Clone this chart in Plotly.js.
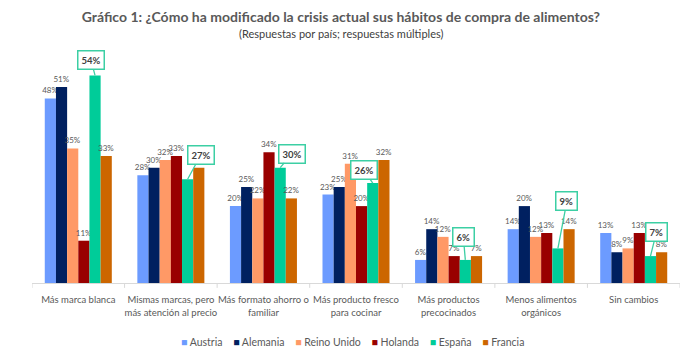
<!DOCTYPE html>
<html>
<head>
<meta charset="utf-8">
<script src="https://cdn.plot.ly/plotly-3.0.1.min.js"></script>
<style>html,body{margin:0;padding:0;background:#fff;}#chart{width:700px;height:354px;}</style>
</head>
<body>
<div id="chart"></div>
<script>
const categories = [
  "Más marca blanca",
  "Mismas marcas, pero<br>más atención al precio",
  "Más formato ahorro o<br>familiar",
  "Más producto fresco<br>para cocinar",
  "Más productos<br>precocinados",
  "Menos alimentos<br>orgánicos",
  "Sin cambios"
];
const austria    = [48, 28, 20, 23, 6, 14, 13];
const alemania   = [51, 30, 25, 25, 14, 20, 8];
const reinoUnido = [35, 32, 22, 31, 12, 12, 9];
const holanda    = [11, 33, 34, 20, 7, 13, 13];
const espana     = [54, 27, 30, 26, 6, 9, 7];
const francia    = [33, 30, 22, 32, 7, 14, 8];

const seriesNames = ["Austria", "Alemania", "Reino Unido", "Holanda", "España", "Francia"];
const seriesData = [austria, alemania, reinoUnido, holanda, espana, francia];
const colors = ["#6C9BFF", "#002060", "#FF9966", "#990000", "#00CC99", "#CC6600"];

const bargap = 0.276;
const nSeries = seriesNames.length;
const barW = (1 - bargap) / nSeries;
const espIdx = 4;
const espOffset = -(1 - bargap) / 2 + (espIdx + 0.5) * barW;

const traces = seriesData.map((vals, k) => ({
  type: "bar",
  name: seriesNames[k],
  x: categories.map((c, i) => i),
  y: vals,
  marker: {color: colors[k]},
  text: k === espIdx ? vals.map(() => "") : vals.map(v => v + "%"),
  textposition: "outside",
  constraintext: "none",
  cliponaxis: false,
  textfont: {family: "Lato, sans-serif", size: 8, color: "#595959"},
  hoverinfo: "skip",
  showlegend: false
}));

// callout offsets (px) from bar top to box center
const calloutAx = [-4, 13, 12, -9, -2, 9, 6];
const calloutAy = [-15, -24, -14, -13, -23, -47, -24];

const annotations = espana.map((v, i) => ({
  x: i + espOffset,
  y: v,
  xref: "x", yref: "y",
  text: "<b>" + v + "%</b>",
  showarrow: true,
  arrowhead: 0,
  arrowwidth: 1.3,
  arrowcolor: "#3CCFA4",
  ax: calloutAx[i],
  ay: calloutAy[i],
  bordercolor: "#3CCFA4",
  borderwidth: 1.5,
  borderpad: 3,
  bgcolor: "#ffffff",
  font: {family: "Lato, sans-serif", size: 9.5, color: "#404040"}
}));

annotations.push({
  xref: "paper", yref: "paper",
  x: 0.477, y: 1.117,
  xanchor: "center", yanchor: "middle",
  showarrow: false,
  text: "(Respuestas por país; respuestas múltiples)",
  font: {family: "Lato, sans-serif", size: 11, color: "#404040"}
});

// compact legend row
const legendText = seriesNames.map((n, k) =>
  '<span style="color:' + colors[k] + '">■</span> ' + n
).join("&nbsp;&nbsp;&nbsp;&nbsp;");
annotations.push({
  xref: "paper", yref: "paper",
  x: 0.495, y: -0.265,
  xanchor: "center", yanchor: "middle",
  showarrow: false,
  text: legendText,
  font: {family: "Lato, sans-serif", size: 10.5, color: "#595959"}
});

const layout = {
  width: 700, height: 354,
  margin: {l: 32, r: 20, t: 60, b: 71, autoexpand: false},
  paper_bgcolor: "#ffffff",
  plot_bgcolor: "#ffffff",
  title: {
    text: "<b>Gráfico 1: ¿Cómo ha modificado la crisis actual sus hábitos de compra de alimentos?</b>",
    font: {family: "Lato, sans-serif", size: 14, color: "#595959"},
    x: 0.487, xanchor: "center",
    y: 0.952, yanchor: "middle"
  },
  barmode: "group",
  bargap: bargap,
  bargroupgap: 0,
  showlegend: false,
  xaxis: {
    tickmode: "array",
    tickvals: categories.map((c, i) => i),
    ticktext: categories,
    tickangle: 0,
    range: [-0.5, categories.length - 0.5],
    showline: true,
    linecolor: "#D9D9D9",
    linewidth: 1,
    ticks: "",
    ticklabelstandoff: 8,
    tickfont: {family: "Lato, sans-serif", size: 9.5, color: "#595959"},
    showgrid: false,
    zeroline: false,
    fixedrange: true
  },
  yaxis: {
    range: [0, 58],
    visible: false,
    showgrid: false,
    zeroline: false,
    fixedrange: true
  },
  shapes: categories.map((c, i) => i - 0.5).concat([categories.length - 0.5]).map(b => ({
    type: "line", xref: "x", yref: "paper",
    x0: b, x1: b, y0: 0, y1: -0.022,
    line: {color: "#D9D9D9", width: 1}
  })),
  annotations: annotations,
  hovermode: false
};

Plotly.newPlot("chart", traces, layout, {displayModeBar: false, staticPlot: true});
</script>
</body>
</html>
